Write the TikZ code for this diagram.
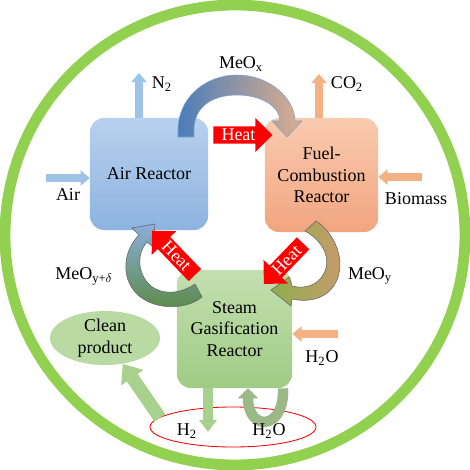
\documentclass[tikz,border=0pt]{standalone}
\usepackage{fontspec}
\setmainfont{Liberation Serif}
\usetikzlibrary{shapes.geometric,shapes.arrows,arrows.meta}

\definecolor{ringgreen}{HTML}{92D050}
\definecolor{airtop}{HTML}{B8D1EE}
\definecolor{airbot}{HTML}{8DB3E0}
\definecolor{fueltop}{HTML}{F9CBB0}
\definecolor{fuelbot}{HTML}{F2A57F}
\definecolor{steamtop}{HTML}{C4E0B0}
\definecolor{steambot}{HTML}{9FCB85}
\definecolor{gasblue}{HTML}{9DC3E6}
\definecolor{gasorange}{HTML}{F4B183}
\definecolor{gasgreen}{HTML}{A9D18E}
\definecolor{loopgreen}{HTML}{9BB987}
\definecolor{cleanfill}{HTML}{B9DBA3}
\definecolor{meoxl}{HTML}{4A7DB9}
\definecolor{meoxm}{HTML}{9DB6D6}
\definecolor{meoxr}{HTML}{DDAE8E}
\definecolor{meoytan}{HTML}{C99A6C}
\definecolor{meoyolive}{HTML}{8FAE4E}
\definecolor{meodblue}{HTML}{8AAEDC}
\definecolor{meodgreen}{HTML}{5B8A45}

\tikzstyle{reactor}=[rounded corners=0.35cm,align=center,inner sep=0pt]
\tikzstyle{heat}=[single arrow,fill=red,text=white,inner xsep=2pt,inner ysep=1.7pt,
  single arrow head extend=0.21cm,single arrow head indent=0pt]
\tikzstyle{lbl}=[inner sep=0pt,align=center]
\tikzstyle{gas}=[line width=0.2cm,-{Triangle[width=0.38cm,length=0.23cm]}]
\tikzstyle{wide}=[line width=0.33cm,-{Triangle[width=0.65cm,length=0.42cm]}]

\begin{document}
\begin{tikzpicture}[x=0.025cm,y=-0.025cm,font=\fontsize{12.8pt}{15.3pt}\selectfont]
    \useasboundingbox (0,0) rectangle (470,470);
    \draw[ringgreen,line width=0.27cm] (235,235) circle[radius=230];

    % reactors
    \node[reactor,top color=airtop,bottom color=airbot,minimum width=2.95cm,minimum height=2.8cm]
      (air) at (149,174) {Air Reactor};
    \node[reactor,top color=fueltop,bottom color=fuelbot,minimum width=2.83cm,minimum height=2.85cm]
      (fuel) at (321.5,175) {Fuel-\\Combustion\\Reactor};
    \node[reactor,top color=steamtop,bottom color=steambot,minimum width=2.88cm,minimum height=2.95cm]
      (steam) at (234.5,329) {Steam\\Gasification\\Reactor};

    \node[ellipse,fill=cleanfill,minimum width=2.75cm,minimum height=1.35cm,align=center,inner sep=0pt]
      (clean) at (105,338) {Clean\\product};
    \node[ellipse,draw=red,line width=0.6pt,minimum width=4.15cm,minimum height=1cm] (outlet) at (233,427) {};

    % feed and product streams
    \coordinate (n2tip) at (139,73);
    \coordinate (co2tip) at (319,74);
    \coordinate (airin) at (46,178);
    \coordinate (bioin) at (422,177);
    \coordinate (h2oin) at (338,334);
    \coordinate (h2tip) at (208,432);
    \coordinate (cleantail) at (160,418);
    \coordinate (loopr) at (283,388);
    \coordinate (loopl) at (248,388);

    \draw[gas,gasblue] (air.north -| n2tip) -- (n2tip);
    \draw[gas,gasorange] (fuel.north -| co2tip) -- (co2tip);
    \draw[gas,gasblue] (airin) -- (airin -| air.west);
    \draw[gas,gasorange] (bioin) -- (bioin -| fuel.east);
    \draw[gas,gasorange] (h2oin) -- (h2oin -| steam.east);
    \draw[gas,gasgreen,line width=0.23cm,-{Triangle[width=0.43cm,length=0.3cm]}] (steam.south -| h2tip) -- (h2tip);
    \draw[wide,gasgreen] (cleantail) -- (clean);
    \draw[loopgreen,line width=0.26cm,-{Triangle[width=0.5cm,length=0.25cm]}]
      (steam.south -| loopr) .. controls +(2,42) and +(0,44) .. (steam.south -| loopl);

    % oxygen carrier loop
    \shadedraw[left color=meoxl,middle color=meoxm,right color=meoxr,draw=meoxl!70,line width=0.4pt]
      (178,137) -- (178,130) .. controls (178,99) and (204,75) .. (237,75)
      .. controls (270,75) and (295,99) .. (295,121) -- (302,121) -- (287,137) -- (272,121) -- (280,121)
      .. controls (280,107) and (262,95) .. (237,95) .. controls (212,95) and (194,107) .. (194,130)
      -- (194,137) -- cycle;
    \shadedraw[left color=meoyolive,right color=meoytan,draw=black!60,line width=0.4pt]
      (316,221) .. controls (336,234) and (346,262) .. (336,282) .. controls (328,298) and (310,303) .. (292,299)
      -- (291,306) -- (271,290) -- (289,277) -- (292,286)
      .. controls (308,290) and (322,283) .. (326,268) .. controls (330,252) and (318,238) .. (305,231) -- cycle;
    \shadedraw[top color=meodblue,bottom color=meodgreen,draw=black!60,line width=0.4pt]
      (202,297) .. controls (185,311) and (152,310) .. (136,293) .. controls (121,277) and (123,251) .. (139,235)
      -- (132,228) -- (155,224) -- (153,247) -- (147,242)
      .. controls (135,256) and (139,276) .. (151,286) .. controls (164,296) and (182,293) .. (195,284) -- cycle;

    % heat transfer
    \node[heat,minimum height=1.475cm] (heataf) at (238.5,135) {Heat};
    \node[heat,minimum height=1.54cm,rotate=-46,shape border rotate=180] (heatsa) at (176.5,256) {Heat};
    \node[heat,minimum height=1.41cm,rotate=46,shape border rotate=180] (heatfs) at (286.5,260.5) {Heat};

    % labels
    \node[lbl] (n2) at (162,84) {N\textsubscript{2}};
    \node[lbl] (co2) at (347,84) {CO\textsubscript{2}};
    \node[lbl] (meox) at (241,64) {MeO\textsubscript{x}};
    \node[lbl] (airlbl) at (68,195) {Air};
    \node[lbl] (biomass) at (416,199) {Biomass};
    \node[lbl] (meod) at (84,276) {MeO\textsubscript{y+$\delta$}};
    \node[lbl] (meoy) at (370,276) {MeO\textsubscript{y}};
    \node[lbl] (h2oright) at (322,358) {H\textsubscript{2}O};
    \node[lbl] (h2) at (187,431) {H\textsubscript{2}};
    \node[lbl] (h2oloop) at (269,431) {H\textsubscript{2}O};
\end{tikzpicture}
\end{document}
